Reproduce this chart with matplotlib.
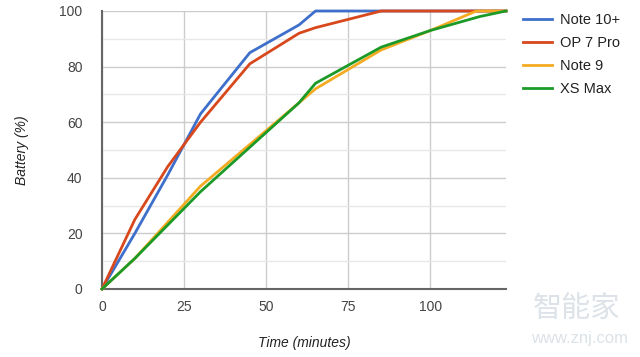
import matplotlib
matplotlib.use("Agg")
import matplotlib.pyplot as plt
from matplotlib.ticker import MultipleLocator

plt.rcParams['font.family'] = ['Liberation Sans', 'DejaVu Sans']

series_names = ["Note 10+", "OP 7 Pro", "Note 9", "XS Max"]
colors = ["#3d6fcb", "#d8481d", "#f4ab21", "#1c9a28"]

note10_t = [0, 10, 20, 30, 45, 60, 65, 123]
note10_v = [0, 20, 41, 63, 85, 95, 100, 100]

op7_t = [0, 10, 20, 30, 45, 60, 65, 85, 123]
op7_v = [0, 25, 44, 60, 81, 92, 94, 100, 100]

note9_t = [0, 10, 20, 30, 45, 60, 65, 85, 100, 114, 123]
note9_v = [0, 11, 24, 37, 52, 67, 72, 86, 93, 100, 100]

xs_t = [0, 10, 20, 30, 45, 60, 65, 85, 100, 115, 123]
xs_v = [0, 11, 23, 35, 51, 67, 74, 87, 93, 98, 100]

x_ticks = [0, 25, 50, 75, 100]
y_ticks = [0, 20, 40, 60, 80, 100]

fig = plt.figure(figsize=(6.4, 3.57), dpi=100)
ax = fig.add_axes([102/640, 1 - 289/357, (506-102)/640, (289-11)/357])

data = [(note10_t, note10_v), (op7_t, op7_v), (note9_t, note9_v), (xs_t, xs_v)]
order = [2, 3, 1, 0]
lines = {}
for i in order:
    t, v = data[i]
    ln, = ax.plot(t, v, color=colors[i], lw=2, label=series_names[i], zorder=3 + i * 0.1,
                  solid_joinstyle='round', clip_on=False)
    lines[i] = ln

ax.set_xlim(0, 123)
ax.set_ylim(0, 100)
ax.set_xticks(x_ticks)
ax.set_yticks(y_ticks)
ax.yaxis.set_minor_locator(MultipleLocator(10))
ax.grid(True, which='major', color='#cccccc', lw=1)
ax.grid(True, which='minor', axis='y', color='#e8e8e8', lw=1)
ax.set_axisbelow(True)
for s in ['top', 'right']:
    ax.spines[s].set_visible(False)
for s in ['left', 'bottom']:
    ax.spines[s].set_color('#666666')
    ax.spines[s].set_linewidth(1.5)
ax.tick_params(which='both', length=0, labelsize=10, labelcolor='#444444', pad=8)
ax.tick_params(axis='y', pad=14)

ax.set_xlabel("Time (minutes)", fontstyle='italic', fontsize=10, color='#222222', labelpad=16)
ax.set_ylabel("Battery (%)", fontstyle='italic', fontsize=10, color='#222222', labelpad=22)

leg = fig.legend([lines[i] for i in range(4)], series_names, loc='upper left',
                 bbox_to_anchor=(510/640, 1.0), frameon=False, fontsize=10.5,
                 handlelength=2.0, labelspacing=0.62, handletextpad=0.5)
for txt in leg.get_texts():
    txt.set_color('#222222')

fig.text(576/640, 1 - 309/357, "智能家", fontsize=21, color='#dce2e7', ha='center', va='center',
         family=['Noto Sans CJK SC', 'DejaVu Sans'])
fig.text(580/640, 1 - 339/357, "www.znj.com", fontsize=12, color='#dce2e7', ha='center', va='center')

fig.savefig("out.png", dpi=100)
